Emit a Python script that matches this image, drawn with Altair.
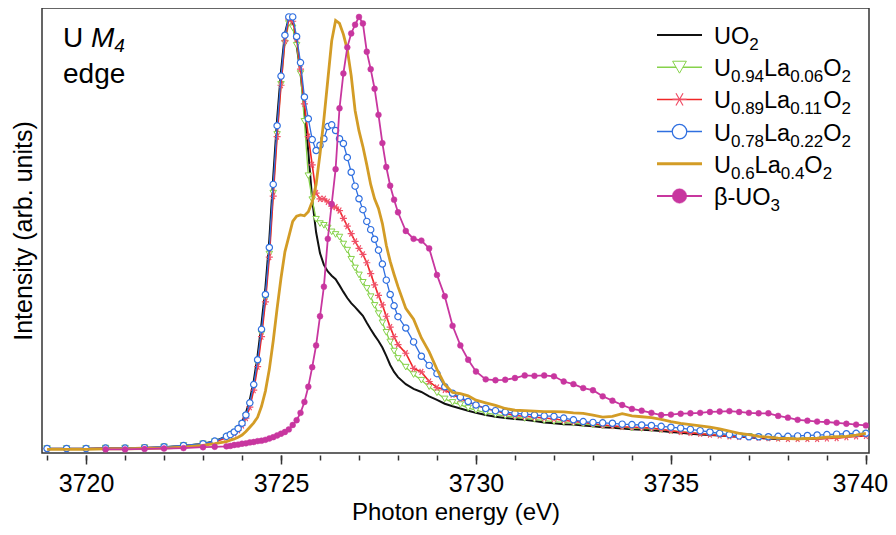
import altair as alt
import pandas as pd

FONT = "Liberation Sans"

# ---------------- data ----------------
energy = [3719.0, 3719.5, 3720.0, 3720.5, 3721.0, 3721.5, 3722.0, 3722.5, 3723.0, 3723.3,
          3723.6, 3723.7, 3723.8, 3723.9, 3724.0, 3724.1, 3724.2, 3724.3, 3724.4, 3724.5,
          3724.6, 3724.7, 3724.8, 3724.9, 3725.0, 3725.1, 3725.2, 3725.3, 3725.4, 3725.5,
          3725.6, 3725.7, 3725.8, 3725.9, 3726.0, 3726.1, 3726.2, 3726.3, 3726.4, 3726.5,
          3726.6, 3726.7, 3726.8, 3726.9, 3727.0, 3727.1, 3727.2, 3727.3, 3727.4, 3727.5,
          3727.6, 3727.7, 3727.8, 3727.9, 3728.0,
          3728.2, 3728.4, 3728.6, 3728.8, 3729.0, 3729.2, 3729.4, 3729.6, 3729.8, 3730.0,
          3730.25, 3730.5, 3730.75, 3731.0, 3731.25, 3731.5, 3731.75, 3732.0,
          3732.25, 3732.5, 3732.75, 3733.0, 3733.25, 3733.5, 3733.75, 3734.0,
          3734.25, 3734.5, 3734.75, 3735.0, 3735.25, 3735.5, 3735.75, 3736.0,
          3736.25, 3736.5, 3736.75, 3737.0, 3737.25, 3737.5, 3737.75, 3738.0,
          3738.25, 3738.5, 3738.75, 3739.0, 3739.25, 3739.5, 3739.75, 3740.0]

uo2 = [0.007, 0.007, 0.007, 0.008, 0.008, 0.009, 0.011, 0.014, 0.019, 0.025,
       0.036, 0.041, 0.048, 0.057, 0.070, 0.090, 0.120, 0.163, 0.222, 0.295,
       0.378, 0.488, 0.632, 0.765, 0.875, 0.962, 0.998, 0.985, 0.935, 0.870,
       0.785, 0.690, 0.580, 0.505, 0.457, 0.430, 0.415, 0.405, 0.397, 0.383,
       0.368, 0.354, 0.342, 0.333, 0.323, 0.313, 0.297, 0.282, 0.268, 0.255,
       0.240, 0.221, 0.200, 0.184, 0.172,
       0.156, 0.145, 0.138, 0.128, 0.120, 0.111, 0.105, 0.100, 0.095, 0.090,
       0.085, 0.081, 0.078, 0.076, 0.074, 0.071, 0.068, 0.066,
       0.064, 0.063, 0.061, 0.059, 0.057, 0.056, 0.054, 0.052,
       0.051, 0.050, 0.048, 0.046, 0.044, 0.042, 0.040, 0.039,
       0.038, 0.036, 0.035, 0.034, 0.032, 0.031, 0.030, 0.030,
       0.030, 0.030, 0.031, 0.032, 0.034, 0.036, 0.038, 0.040]

la006 = [0.008, 0.008, 0.008, 0.009, 0.009, 0.010, 0.012, 0.015, 0.019, 0.024,
         0.034, 0.038, 0.044, 0.052, 0.064, 0.082, 0.108, 0.148, 0.203, 0.272,
         0.352, 0.455, 0.595, 0.730, 0.845, 0.940, 0.985, 0.975, 0.935, 0.870,
         0.760, 0.635, 0.580, 0.535, 0.525, 0.521, 0.515, 0.506, 0.500, 0.494,
         0.478, 0.464, 0.443, 0.423, 0.407, 0.390, 0.376, 0.357, 0.337, 0.318,
         0.297, 0.275, 0.253, 0.232, 0.215,
         0.195, 0.178, 0.165, 0.150, 0.136, 0.122, 0.114, 0.109, 0.101, 0.096,
         0.090, 0.086, 0.083, 0.080, 0.077, 0.075, 0.072, 0.070,
         0.068, 0.066, 0.064, 0.062, 0.060, 0.059, 0.057, 0.055,
         0.054, 0.053, 0.051, 0.049, 0.047, 0.045, 0.043, 0.041,
         0.040, 0.038, 0.037, 0.036, 0.034, 0.033, 0.032, 0.032,
         0.032, 0.032, 0.033, 0.034, 0.036, 0.038, 0.040, 0.042]

la011 = [0.008, 0.008, 0.008, 0.009, 0.009, 0.010, 0.011, 0.014, 0.018, 0.023,
         0.033, 0.037, 0.043, 0.050, 0.061, 0.078, 0.103, 0.142, 0.196, 0.265,
         0.345, 0.448, 0.588, 0.725, 0.843, 0.945, 0.995, 0.990, 0.950, 0.880,
         0.800, 0.725, 0.660, 0.595, 0.582, 0.582, 0.575, 0.565, 0.563, 0.555,
         0.537, 0.519, 0.502, 0.484, 0.468, 0.454, 0.435, 0.410, 0.384, 0.360,
         0.338, 0.312, 0.287, 0.265, 0.247,
         0.227, 0.192, 0.184, 0.162, 0.148, 0.143, 0.132, 0.123, 0.115, 0.108,
         0.100, 0.095, 0.089, 0.084, 0.082, 0.080, 0.078, 0.076,
         0.073, 0.070, 0.068, 0.065, 0.062, 0.060, 0.058, 0.057,
         0.056, 0.055, 0.052, 0.049, 0.046, 0.044, 0.042, 0.040,
         0.038, 0.036, 0.035, 0.034, 0.033, 0.032, 0.031, 0.030,
         0.030, 0.030, 0.030, 0.031, 0.032, 0.034, 0.036, 0.037]

la022 = [0.008, 0.008, 0.008, 0.009, 0.009, 0.010, 0.012, 0.015, 0.019, 0.025,
         0.036, 0.040, 0.046, 0.054, 0.066, 0.085, 0.113, 0.155, 0.212, 0.282,
         0.362, 0.470, 0.615, 0.750, 0.864, 0.958, 1.000, 1.000, 0.955, 0.895,
         0.816, 0.766, 0.718, 0.693, 0.705, 0.720, 0.748, 0.752, 0.739, 0.720,
         0.709, 0.677, 0.643, 0.611, 0.582, 0.557, 0.530, 0.511, 0.489, 0.464,
         0.432, 0.395, 0.362, 0.336, 0.311,
         0.285, 0.253, 0.220, 0.199, 0.180, 0.150, 0.135, 0.126, 0.116, 0.108,
         0.100, 0.095, 0.092, 0.089, 0.087, 0.085, 0.083, 0.082,
         0.078, 0.074, 0.070, 0.068, 0.067, 0.066, 0.064, 0.063,
         0.062, 0.061, 0.059, 0.057, 0.055, 0.052, 0.049, 0.046,
         0.043, 0.040, 0.037, 0.035, 0.035, 0.035, 0.036, 0.036,
         0.037, 0.038, 0.039, 0.040, 0.041, 0.042, 0.043, 0.043]

la040 = [0.006, 0.006, 0.006, 0.007, 0.007, 0.008, 0.009, 0.011, 0.015, 0.019,
         0.024, 0.027, 0.030, 0.034, 0.039, 0.047, 0.057, 0.067, 0.080, 0.105,
         0.140, 0.190, 0.255, 0.330, 0.400, 0.460, 0.495, 0.530, 0.542, 0.545,
         0.543, 0.552, 0.575, 0.615, 0.685, 0.765, 0.855, 0.945, 0.992, 0.985,
         0.960, 0.925, 0.865, 0.785, 0.738, 0.702, 0.660, 0.615, 0.582, 0.560,
         0.525, 0.475, 0.438, 0.408, 0.380,
         0.330, 0.305, 0.262, 0.230, 0.190, 0.155, 0.137, 0.134, 0.129, 0.119,
         0.113, 0.107, 0.100, 0.096, 0.095, 0.094, 0.093, 0.093,
         0.092, 0.090, 0.089, 0.085, 0.080, 0.082, 0.088, 0.083,
         0.081, 0.079, 0.075, 0.070, 0.066, 0.063, 0.060, 0.057,
         0.053, 0.048, 0.043, 0.040, 0.036, 0.034, 0.032, 0.031,
         0.030, 0.031, 0.032, 0.034, 0.035, 0.036, 0.039, 0.043]

uo3 = [None, None, None, 0.006, 0.006, 0.007, 0.008, 0.009, 0.011, 0.012,
       0.013, 0.014, 0.016, 0.017, 0.019, 0.020, 0.022, 0.023, 0.025, 0.026,
       0.028, 0.031, 0.034, 0.038, 0.042, 0.046, 0.052, 0.062, 0.073, 0.090,
       0.115, 0.150, 0.195, 0.245, 0.312, 0.380, 0.490, 0.570, 0.650, 0.790,
       0.870, 0.930, 0.962, 0.982, 1.000, 0.985, 0.920, 0.880, 0.835, 0.775,
       0.710, 0.655, 0.612, 0.580, 0.551,
       0.508, 0.490, 0.486, 0.468, 0.407, 0.358, 0.290, 0.245, 0.212, 0.185,
       0.167, 0.165, 0.166, 0.170, 0.176, 0.175, 0.176, 0.174,
       0.162, 0.156, 0.147, 0.142, 0.128, 0.118, 0.108, 0.099,
       0.095, 0.090, 0.085, 0.086, 0.088, 0.089, 0.090, 0.092,
       0.093, 0.094, 0.092, 0.090, 0.089, 0.089, 0.083, 0.079,
       0.074, 0.072, 0.070, 0.069, 0.067, 0.065, 0.063, 0.061]

major_ticks = [3720, 3725, 3730, 3735, 3740]
minor_ticks = [3719, 3720, 3721, 3722, 3723, 3724, 3725, 3726, 3727, 3728, 3729, 3730,
               3731, 3732, 3733, 3734, 3735, 3736, 3737, 3738, 3739, 3740]

# ---------------- styling ----------------
BLACK = "#111111"
GREEN = "#86d24a"
RED = "#f02626"
RED_MK = "#f05068"
BLUE = "#2f6fe0"
GOLD = "#d39c26"
MAGENTA = "#c8369f"
ASTERISK = "M-1,0L1,0M-0.5,-0.866L0.5,0.866M-0.5,0.866L0.5,-0.866"

series = [
    # key, values, color, line width, marker
    ("UO2", uo2, BLACK, 2.0, None),
    ("La006", la006, GREEN, 1.3, dict(shape="triangle-down", size=42, fill="white", stroke=GREEN, strokeWidth=1.0)),
    ("La011", la011, RED, 1.6, dict(shape=ASTERISK, size=50, stroke=RED_MK, strokeWidth=1.2)),
    ("La022", la022, BLUE, 1.3, dict(shape="circle", size=40, fill="white", stroke=BLUE, strokeWidth=1.2)),
    ("La040", la040, GOLD, 2.8, None),
    ("UO3", uo3, MAGENTA, 1.8, dict(shape="circle", size=34, fill=MAGENTA, stroke=MAGENTA, strokeWidth=0.5)),
]

rows = []
for key, vals, *_ in series:
    assert len(vals) == len(energy), key
    for e, v in zip(energy, vals):
        if v is not None:
            rows.append({"E": e, "I": v, "s": key})
df = pd.DataFrame(rows)

xs = alt.Scale(domain=[3718.87, 3740.08], nice=False, zero=False)
ys = alt.Scale(domain=[-0.0023, 1.0205], nice=False, zero=False)

major_axis = alt.Axis(values=major_ticks, orient="bottom", offset=2, domain=False, grid=False,
                      tickSize=9, tickWidth=1.5, tickColor="#333333", format="d",
                      labelFont=FONT, labelFontSize=25, labelColor="black", labelPadding=27,
                      labelBaseline="alphabetic", labelFlush=False, labelOverlap=False,
                      labelOffset={"expr": "datum.value == 3740 ? -6 : 0"},
                      title="Photon energy (eV)", titleFont=FONT, titleFontSize=24,
                      titleFontWeight="normal", titleColor="black", titleY=64,
                      titleBaseline="alphabetic")
minor_axis = alt.Axis(values=minor_ticks, orient="bottom", offset=2, domain=False, grid=False,
                      tickSize=5, tickWidth=1.5, tickColor="#333333", labels=False, title=None)
y_axis = alt.Axis(orient="left", domain=False, ticks=False, labels=False, grid=False,
                  title="Intensity (arb. units)", titleFont=FONT, titleFontSize=25,
                  titleFontWeight="normal", titleColor="black", titleX=-11,
                  titleBaseline="alphabetic")

layers = []
for i, (key, vals, color, lw, mk) in enumerate(series):
    if key == "UO2":
        xenc = alt.X("E:Q", scale=xs, axis=major_axis)
        yenc = alt.Y("I:Q", scale=ys, axis=y_axis)
    elif key == "La040":
        xenc = alt.X("E:Q", scale=xs, axis=minor_axis)
        yenc = alt.Y("I:Q", scale=ys, axis=None)
    else:
        xenc = alt.X("E:Q", scale=xs, axis=None)
        yenc = alt.Y("I:Q", scale=ys, axis=None)
    base = alt.Chart(df).transform_filter(alt.datum.s == key)
    layers.append(base.mark_line(color=color, strokeWidth=lw, clip=True).encode(x=xenc, y=yenc))
    if mk is not None:
        layers.append(base.mark_point(opacity=1, fillOpacity=1, clip=True, **mk).encode(
            x=alt.X("E:Q", scale=xs, axis=None), y=alt.Y("I:Q", scale=ys, axis=None)))

# ---------------- annotations and hand-made legend ----------------
dummy = pd.DataFrame({"d": [0]})
WID = {"U": 0.722, "O": 0.778, "L": 0.556, "a": 0.556, "M": 0.833, ".": 0.278, "-": 0.333,
       "β": 0.575, "e": 0.556, "d": 0.556, "g": 0.556, " ": 0.278}


def text_width(s, size):
    return sum(WID.get(ch, 0.556) for ch in s) * size


def rich_text(segments, x0, y0, F, S, shift):
    out = []
    x = x0
    for txt, sub, italic in segments:
        size = S if sub else F
        extra = {"fontStyle": "italic"} if italic else {}
        out.append(alt.Chart(dummy).mark_text(text=txt, align="left", baseline="alphabetic",
                                              font=FONT, fontSize=size, color="black", **extra)
                   .encode(x=alt.value(x), y=alt.value(y0 + (shift if sub else 0))))
        x += text_width(txt, size)
    return out


layers += rich_text([("U ", 0, 0), ("M", 0, 1), ("4", 1, 1)], 21, 39, 28, 19, 5)
layers += rich_text([("edge", 0, 0)], 21, 75, 28, 19, 5)

legend_entries = [
    ([("UO", 0, 0), ("2", 1, 0)], BLACK, 2.0, None),
    ([("U", 0, 0), ("0.94", 1, 0), ("La", 0, 0), ("0.06", 1, 0), ("O", 0, 0), ("2", 1, 0)], GREEN, 1.5,
     dict(shape="triangle-down", size=190, fill="white", stroke=GREEN, strokeWidth=1.0)),
    ([("U", 0, 0), ("0.89", 1, 0), ("La", 0, 0), ("0.11", 1, 0), ("O", 0, 0), ("2", 1, 0)], RED, 1.5,
     dict(shape=ASTERISK, size=200, stroke=RED_MK, strokeWidth=1.2)),
    ([("U", 0, 0), ("0.78", 1, 0), ("La", 0, 0), ("0.22", 1, 0), ("O", 0, 0), ("2", 1, 0)], BLUE, 1.5,
     dict(shape="circle", size=210, fill="white", stroke=BLUE, strokeWidth=1.2)),
    ([("U", 0, 0), ("0.6", 1, 0), ("La", 0, 0), ("0.4", 1, 0), ("O", 0, 0), ("2", 1, 0)], GOLD, 3.0, None),
    ([("β-UO", 0, 0), ("3", 1, 0)], MAGENTA, 2.0,
     dict(shape="circle", size=210, fill=MAGENTA, stroke=MAGENTA, strokeWidth=0.5)),
]

LEG_X1, LEG_X2, LEG_MX, LEG_TX = 615, 660, 637.5, 672
for i, (segs, color, lw, mk) in enumerate(legend_entries):
    yc = 27 + 32.2 * i
    layers.append(alt.Chart(dummy).mark_rule(color=color, strokeWidth=lw).encode(
        x=alt.value(LEG_X1), x2=alt.value(LEG_X2), y=alt.value(yc)))
    if mk is not None:
        layers.append(alt.Chart(dummy).mark_point(opacity=1, fillOpacity=1, **mk).encode(
            x=alt.value(LEG_MX), y=alt.value(yc)))
    layers += rich_text(segs, LEG_TX, yc + 9, 23.5, 17, 6)

chart = alt.layer(*layers).resolve_axis(x="independent", y="independent").properties(
    width=827, height=445,
    autosize=alt.AutoSizeParams(type="none"),
    padding={"left": 34, "top": 0, "right": 19, "bottom": 74},
).configure_view(stroke="#333333", strokeWidth=1.5)

chart.save("out.html", embed_options={"renderer": "svg", "actions": False})
